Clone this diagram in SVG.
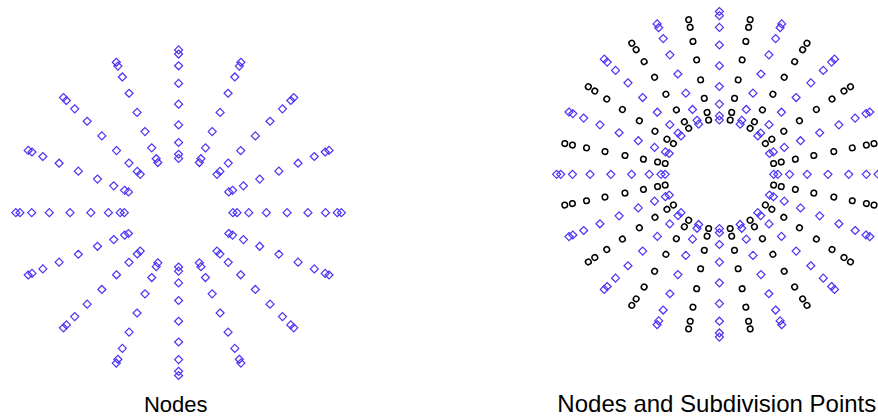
<svg xmlns="http://www.w3.org/2000/svg" xmlns:xlink="http://www.w3.org/1999/xlink" width="878" height="418" viewBox="0 0 878 418">
<style>
.d{fill:none;stroke:#4b32f5;stroke-width:1.2}
.c{fill:none;stroke:#000;stroke-width:1.5}
text{font-family:"Liberation Sans",Arial,Helvetica,sans-serif;fill:#000;text-anchor:middle}
</style>
<defs>
<path id="dm" class="d" d="M0,-4L4,0L0,4L-4,0Z"/>
<g id="r0">
<use xlink:href="#dm" x="54.3"/><use xlink:href="#dm" x="58.43"/><use xlink:href="#dm" x="70.19"/><use xlink:href="#dm" x="87.79"/><use xlink:href="#dm" x="108.55"/><use xlink:href="#dm" x="129.31"/><use xlink:href="#dm" x="146.91"/><use xlink:href="#dm" x="158.67"/><use xlink:href="#dm" x="162.8"/>
</g>
<g id="r1">
<use xlink:href="#dm" transform="translate(54.3 0) rotate(-22.5)"/><use xlink:href="#dm" transform="translate(58.43 0) rotate(-22.5)"/><use xlink:href="#dm" transform="translate(70.19 0) rotate(-22.5)"/><use xlink:href="#dm" transform="translate(87.79 0) rotate(-22.5)"/><use xlink:href="#dm" transform="translate(108.55 0) rotate(-22.5)"/><use xlink:href="#dm" transform="translate(129.31 0) rotate(-22.5)"/><use xlink:href="#dm" transform="translate(146.91 0) rotate(-22.5)"/><use xlink:href="#dm" transform="translate(158.67 0) rotate(-22.5)"/><use xlink:href="#dm" transform="translate(162.8 0) rotate(-22.5)"/>
</g>
<g id="r2">
<use xlink:href="#dm" transform="translate(54.3 0) rotate(-45)"/><use xlink:href="#dm" transform="translate(58.43 0) rotate(-45)"/><use xlink:href="#dm" transform="translate(70.19 0) rotate(-45)"/><use xlink:href="#dm" transform="translate(87.79 0) rotate(-45)"/><use xlink:href="#dm" transform="translate(108.55 0) rotate(-45)"/><use xlink:href="#dm" transform="translate(129.31 0) rotate(-45)"/><use xlink:href="#dm" transform="translate(146.91 0) rotate(-45)"/><use xlink:href="#dm" transform="translate(158.67 0) rotate(-45)"/><use xlink:href="#dm" transform="translate(162.8 0) rotate(-45)"/>
</g>
<g id="r3">
<use xlink:href="#dm" transform="translate(54.3 0) rotate(-67.5)"/><use xlink:href="#dm" transform="translate(58.43 0) rotate(-67.5)"/><use xlink:href="#dm" transform="translate(70.19 0) rotate(-67.5)"/><use xlink:href="#dm" transform="translate(87.79 0) rotate(-67.5)"/><use xlink:href="#dm" transform="translate(108.55 0) rotate(-67.5)"/><use xlink:href="#dm" transform="translate(129.31 0) rotate(-67.5)"/><use xlink:href="#dm" transform="translate(146.91 0) rotate(-67.5)"/><use xlink:href="#dm" transform="translate(158.67 0) rotate(-67.5)"/><use xlink:href="#dm" transform="translate(162.8 0) rotate(-67.5)"/>
</g>
<g id="nodes">
<use xlink:href="#r0"/><use xlink:href="#r0" transform="rotate(90)"/><use xlink:href="#r0" transform="rotate(180)"/><use xlink:href="#r0" transform="rotate(270)"/>
<use xlink:href="#r1" transform="rotate(22.5)"/><use xlink:href="#r1" transform="rotate(112.5)"/><use xlink:href="#r1" transform="rotate(202.5)"/><use xlink:href="#r1" transform="rotate(292.5)"/>
<use xlink:href="#r2" transform="rotate(45)"/><use xlink:href="#r2" transform="rotate(135)"/><use xlink:href="#r2" transform="rotate(225)"/><use xlink:href="#r2" transform="rotate(315)"/>
<use xlink:href="#r3" transform="rotate(67.5)"/><use xlink:href="#r3" transform="rotate(157.5)"/><use xlink:href="#r3" transform="rotate(247.5)"/><use xlink:href="#r3" transform="rotate(337.5)"/>
</g>
<g id="cr">
<circle class="c" cx="55.28" r="2.8"/><circle class="c" cx="63.07" r="2.8"/><circle class="c" cx="77.47" r="2.8"/><circle class="c" cx="96.28" r="2.8"/><circle class="c" cx="116.65" r="2.8"/><circle class="c" cx="135.46" r="2.8"/><circle class="c" cx="149.85" r="2.8"/><circle class="c" cx="157.65" r="2.8"/>
</g>
</defs>
<g id="plot-nodes" transform="translate(178.6 212.7)">
<use xlink:href="#nodes"/>
</g>
<g id="plot-subdivision" transform="translate(719.4 174.3)">
<g id="subdivision-points">
<use xlink:href="#cr" transform="rotate(11.25)"/><use xlink:href="#cr" transform="rotate(33.75)"/><use xlink:href="#cr" transform="rotate(56.25)"/><use xlink:href="#cr" transform="rotate(78.75)"/>
<use xlink:href="#cr" transform="rotate(101.25)"/><use xlink:href="#cr" transform="rotate(123.75)"/><use xlink:href="#cr" transform="rotate(146.25)"/><use xlink:href="#cr" transform="rotate(168.75)"/>
<use xlink:href="#cr" transform="rotate(191.25)"/><use xlink:href="#cr" transform="rotate(213.75)"/><use xlink:href="#cr" transform="rotate(236.25)"/><use xlink:href="#cr" transform="rotate(258.75)"/>
<use xlink:href="#cr" transform="rotate(281.25)"/><use xlink:href="#cr" transform="rotate(303.75)"/><use xlink:href="#cr" transform="rotate(326.25)"/><use xlink:href="#cr" transform="rotate(348.75)"/>
</g>
<use xlink:href="#nodes"/>
</g>
<text id="label-nodes" x="175.7" y="412" font-size="22">Nodes</text>
<text id="label-subdivision" x="716.8" y="412" font-size="24">Nodes and Subdivision Points</text>
</svg>
